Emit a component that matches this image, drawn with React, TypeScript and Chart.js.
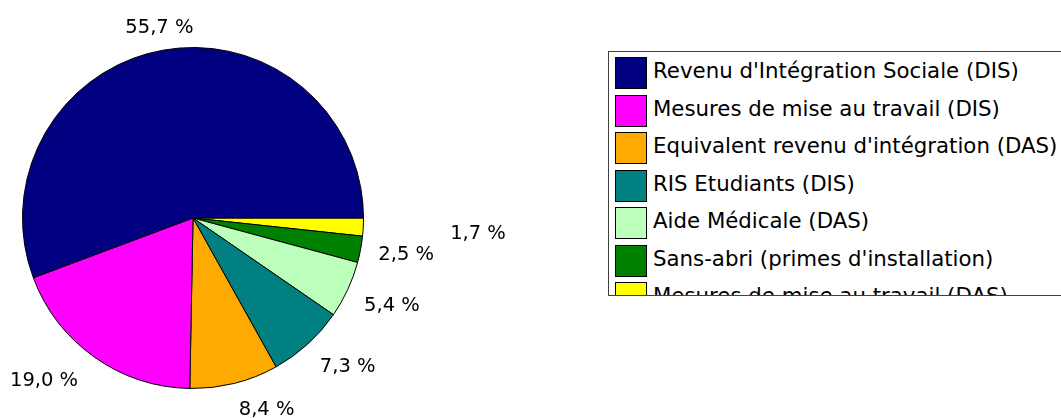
import React, { useEffect, useRef } from "react";
import { Chart, registerables } from "chart.js";

Chart.register(...registerables);

const categories = [
  "Revenu d'Intégration Sociale (DIS)",
  "Mesures de mise au travail (DIS)",
  "Equivalent revenu d'intégration (DAS)",
  "RIS Etudiants (DIS)",
  "Aide Médicale (DAS)",
  "Sans-abri (primes d'installation)",
  "Mesures de mise au travail (DAS)",
];
const shares = [55.7, 19.0, 8.4, 7.3, 5.4, 2.5, 1.7];
const colors = ["#000080", "#FF00FF", "#FFAA00", "#008080", "#BBFFBB", "#008000", "#FFFF00"];

const FONT = '"DejaVu Sans", Verdana, sans-serif';
const LABEL_SIZE = 19.5;
const LEGEND_SIZE = 21.3;

const fmt = (v: number) => v.toFixed(1).replace(".", ",") + " %";

const outsideLabels = {
  id: "outsideLabels",
  afterDatasetsDraw(chart: any) {
    const meta = chart.getDatasetMeta(0);
    const ds = chart.data.datasets[0];
    const ctx = chart.ctx as CanvasRenderingContext2D;
    const fs = LABEL_SIZE;
    const cap = 0.729 * fs;
    ctx.save();
    ctx.font = `${fs}px ${FONT}`;
    ctx.fillStyle = "#000";
    ctx.textBaseline = "alphabetic";
    ctx.textAlign = "left";
    const placed: any[] = [];
    const n = meta.data.length;
    for (let k = n - 1; k >= 0; k--) {
      const arc = meta.data[k];
      const p = arc.getProps(["x", "y", "startAngle", "endAngle", "outerRadius"], true);
      const mid = (p.startAngle + p.endAngle) / 2;
      const dx = Math.cos(mid);
      const dy = Math.sin(mid);
      const deg = (((-mid * 180) / Math.PI) % 360 + 360) % 360;
      const text = fmt(ds.data[k]);
      const w = ctx.measureText(text).width;
      let d = p.outerRadius + 18;
      let box: any = null;
      for (let iter = 0; iter < 400; iter++) {
        const ax = p.x + dx * d;
        const ay = p.y + dy * d;
        let left: number;
        let top: number;
        if (deg >= 75 && deg <= 105) { left = ax - w / 2; top = ay - cap; }
        else if (deg > 105 && deg < 157.5) { left = ax - w - 6; top = ay - cap; }
        else if (deg >= 157.5 && deg <= 202.5) { left = ax - w - 6; top = ay - cap / 2; }
        else if (deg > 202.5 && deg < 265) { left = ax - w - 6; top = ay; }
        else if (deg >= 265 && deg <= 275) { left = ax - w / 2; top = ay; }
        else if (deg > 275 && deg < 337.5) { left = ax; top = ay; }
        else if (deg >= 337.5 || deg <= 22.5) { left = ax; top = ay - cap / 2; }
        else { left = ax; top = ay - cap; }
        box = { left, top, right: left + w, bottom: top + cap };
        const padX = 16;
        const padY = 12;
        const hit = placed.some(
          (b) =>
            box.left < b.right + padX &&
            box.right + padX > b.left &&
            box.top < b.bottom + padY &&
            box.bottom + padY > b.top
        );
        if (!hit) break;
        d += 1;
      }
      placed.push(box);
      ctx.fillText(text, box.left, box.top + cap);
    }
    ctx.restore();
  },
};

export default function App() {
  const ref = useRef<HTMLCanvasElement>(null);

  useEffect(() => {
    if (!ref.current) return;
    const revLabels = [...categories].reverse();
    const revData = [...shares].reverse();
    const revColors = [...colors].reverse();
    const chart = new Chart(ref.current, {
      type: "pie",
      data: {
        labels: revLabels,
        datasets: [
          {
            data: revData,
            backgroundColor: revColors,
            borderColor: "#000000",
            borderWidth: 1,
          },
        ],
      },
      options: {
        responsive: false,
        animation: false,
        rotation: 90,
        layout: { padding: { left: 22, top: 47, right: 697, bottom: 29 } },
        plugins: {
          legend: { display: false },
          tooltip: { enabled: false },
        },
      },
      plugins: [outsideLabels],
    });
    return () => chart.destroy();
  }, []);

  return (
    <div style={{ position: "fixed", left: 0, top: 0, width: 1061, height: 418, background: "#fff" }}>
      <canvas ref={ref} width={1061} height={418} style={{ position: "absolute", left: 0, top: 0 }} />
      <div
        style={{
          position: "absolute",
          left: 608,
          top: 51,
          width: 470,
          height: 245,
          boxSizing: "border-box",
          borderTop: "1px solid #404040",
          borderLeft: "1px solid #404040",
          borderBottom: "1px solid #404040",
          overflow: "hidden",
          background: "#fff",
          fontFamily: FONT,
          fontSize: LEGEND_SIZE,
          color: "#000",
        }}
      >
        {categories.map((c, i) => {
          const top = 5 + i * 37.5;
          return (
            <div key={c}>
              <div
                style={{
                  position: "absolute",
                  left: 6,
                  top,
                  width: 32,
                  height: 32,
                  boxSizing: "border-box",
                  border: "1px solid #000",
                  background: colors[i],
                }}
              />
              <div
                style={{
                  position: "absolute",
                  left: 44,
                  top,
                  lineHeight: "28px",
                  whiteSpace: "nowrap",
                }}
              >
                {c}
              </div>
            </div>
          );
        })}
      </div>
    </div>
  );
}
